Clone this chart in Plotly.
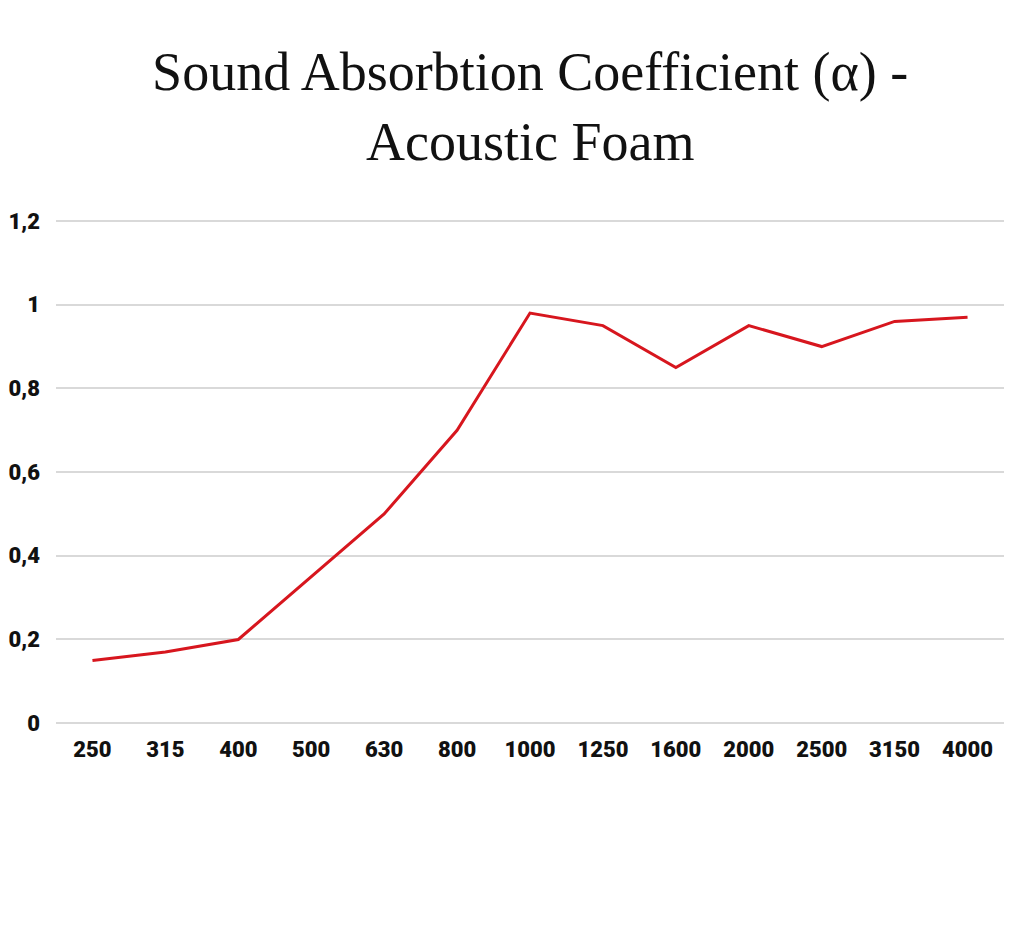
import plotly.graph_objects as go

# Frequency bands (Hz) and absorption coefficients
frequencies = ['250', '315', '400', '500', '630', '800', '1000',
               '1250', '1600', '2000', '2500', '3150', '4000']
alpha = [0.15, 0.17, 0.20, 0.35, 0.50, 0.70, 0.98,
         0.95, 0.85, 0.95, 0.90, 0.96, 0.97]

y_ticks = [0, 0.2, 0.4, 0.6, 0.8, 1.0, 1.2]
y_labels = ['0', '0,2', '0,4', '0,6', '0,8', '1', '1,2']

fig = go.Figure()

fig.add_trace(go.Scatter(
    x=frequencies,
    y=alpha,
    mode='lines',
    line=dict(color='#d7161e', width=3),
    showlegend=False
))

tick_font = dict(family='Roboto, sans-serif', size=22, weight=900, color='#111111')

# the page body has an 8px margin, so the figure is a bit smaller than the window
fig.update_layout(
    title=dict(
        text='Sound Absorbtion Coefficient (α) -<br>Acoustic Foam',
        font=dict(family='Liberation Serif, serif', size=54, color='#111111'),
        x=0.514, xanchor='center',
        y=0.913, yanchor='top'
    ),
    width=1016,
    height=942,
    paper_bgcolor='white',
    plot_bgcolor='white',
    margin=dict(l=48, r=20, t=208, b=226),
    xaxis=dict(
        type='category',
        range=[-0.5, 12.5],
        tickfont=tick_font,
        showgrid=False,
        showline=False,
        ticks='',
        ticklabelstandoff=10,
        automargin=False,
    ),
    yaxis=dict(
        range=[-0.002, 1.212],
        tickvals=y_ticks,
        ticktext=y_labels,
        tickfont=tick_font,
        showgrid=True,
        gridcolor='#d9d9d9',
        gridwidth=2,
        zeroline=True,
        zerolinecolor='#d9d9d9',
        zerolinewidth=2,
        ticks='',
        ticklabelstandoff=15,
        automargin=False,
    ),
)

fig.write_html('out.html')
